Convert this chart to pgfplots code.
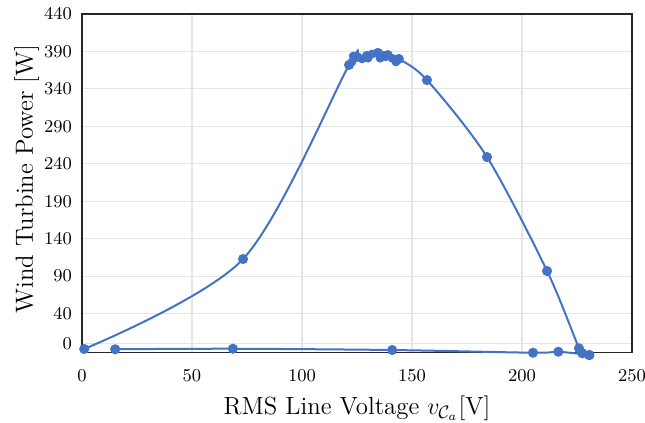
\documentclass[border=0pt]{standalone}
\usepackage{pgfplots}
\pgfplotsset{compat=1.18}
\definecolor{exblue}{RGB}{68,114,196}
\begin{document}
\begin{tikzpicture}
\path[use as bounding box] (-41pt,-35.25pt) rectangle (281.5pt,176.25pt);
\begin{axis}[
  at={(0,0)}, anchor=south west, scale only axis,
  width=275pt, height=169.25pt,
  xmin=0, xmax=250, ymin=-12, ymax=440,
  xtick={0,50,...,250},
  ytick={0,40,90,140,190,240,290,340,390,440},
  grid=major,
  major grid style={draw=black!10, line width=0.6pt},
  axis line style={draw=black!85, line width=0.8pt},
  major tick length=0pt,
  tick label style={font=\fontsize{9}{10}\selectfont},
  /pgf/number format/assume math mode=true,
  xticklabel style={yshift=-5pt},
  yticklabel style={xshift=-1.5pt},
  xlabel={RMS Line Voltage $v_{\mathcal{C}_a}$[V]},
  ylabel={Wind Turbine Power [W]},
  label style={font=\fontsize{12.4}{14}\selectfont},
  xlabel style={at={(axis description cs:0.5,-0.184)}, anchor=base},
  ylabel style={at={(axis description cs:-0.0891,0.512)}, anchor=base},
  clip=false,
]
\addplot[exblue, line width=1pt, smooth, mark=*, mark size=2pt, mark options={fill=exblue, draw=exblue}] coordinates {
(1.0,-7.3) (73.2,112.8) (121.4,372) (125,382.7) (129.5,384) (134.5,388) (139,385) (144,380)
(156.8,351.8) (184.1,249) (211.4,96.8) (225.9,-6.4) (227.4,-13) (230.6,-15.4)
};
\addplot[exblue, line width=1pt, smooth, mark=*, mark size=2pt, mark options={fill=exblue, draw=exblue}] coordinates {
(230.6,-15.4) (216.5,-11) (205,-12.3) (141,-8.7) (68.6,-7) (15.1,-7.7)
};
\addplot[only marks, mark=*, mark size=2pt, exblue, mark options={fill=exblue, draw=exblue}] coordinates {
(121.4,372) (122.7,376) (123.3,383.8) (125,382.7) (127.3,380) (129.5,384) (131.8,386.5)
(134.5,388) (136.8,385) (139,385) (140.9,381) (142.7,376) (144,380) (135.5,381) (130,381) (138,383)
};
\end{axis}
\end{tikzpicture}
\end{document}
